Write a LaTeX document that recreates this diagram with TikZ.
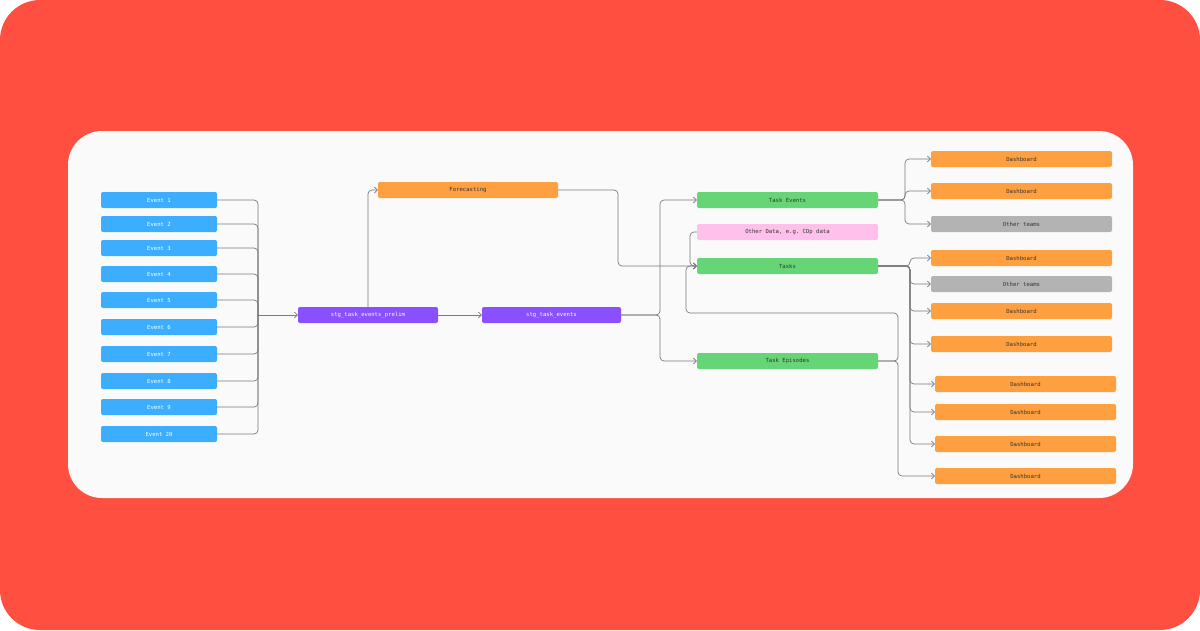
\documentclass[tikz,border=0pt]{standalone}
\usepackage{fontspec}
\setmonofont{DejaVu Sans Mono}
\usetikzlibrary{arrows.meta}
\definecolor{bgred}{HTML}{FF4F40}
\definecolor{panel}{HTML}{FAFAFA}
\definecolor{cblue}{HTML}{3DAEFF}
\definecolor{cpurple}{HTML}{8A4FFF}
\definecolor{corange}{HTML}{FFA040}
\definecolor{cgreen}{HTML}{66D575}
\definecolor{cpink}{HTML}{FFC0EB}
\definecolor{cgray}{HTML}{B3B3B3}
\definecolor{cline}{HTML}{7A7A7A}
\begin{document}
\begin{tikzpicture}[x=1pt,y=-1pt,
  box/.style={rounded corners=2pt,inner sep=0pt,minimum height=16pt,font=\ttfamily\fontsize{5.6}{6}\selectfont,text=black!80},
  ev/.style={box,fill=cblue,minimum width=116pt,text=white},
  pu/.style={box,fill=cpurple,minimum width=140pt,text=white},
  fo/.style={box,fill=corange,minimum width=181pt},
  gr/.style={box,fill=cgreen,minimum width=181pt},
  pk/.style={box,fill=cpink,minimum width=181pt},
  gy/.style={box,fill=cgray,minimum width=181pt},
  ln/.style={draw=cline,line width=0.7pt,rounded corners=4pt},
  ar/.style={ln,-{Straight Barb[length=3pt,width=6pt]}}]
\fill[bgred,rounded corners=40pt] (0,0) rectangle (1200,630);
\useasboundingbox (0,0) rectangle (1200,630);
\fill[panel,rounded corners=34pt] (68,131) rectangle (1133,498);
% events
\foreach \i/\y/\t in {1/200/Event 1,2/224/Event 2,3/248/Event 3,4/274/Event 4,5/300/Event 5,6/327/Event 6,7/354/Event 7,8/381/Event 8,9/407/Event 9,10/434/Event 20}
  \node[ev] (e\i) at (159,\y) {\t};
\node[pu] (pre) at (368,315) {stg\_task\_events\_prelim};
\node[fo,minimum width=180pt] (fc) at (468,190) {Forecasting};
\node[pu,minimum width=139pt] (stg) at (551.5,315) {stg\_task\_events};
\node[gr] (te) at (787.5,200) {Task Events};
\node[pk] (od) at (787.5,232) {Other Data, e.g. CDp data};
\node[gr] (tk) at (787.5,266) {Tasks};
\node[gr] (tep) at (787.5,361) {Task Episodes};
\node[fo] (d1) at (1021.5,159) {Dashboard};
\node[fo] (d2) at (1021.5,191) {Dashboard};
\node[gy] (o1) at (1021.5,224) {Other teams};
\node[fo] (d3) at (1021.5,258) {Dashboard};
\node[gy] (o2) at (1021.5,284) {Other teams};
\node[fo] (d4) at (1021.5,311) {Dashboard};
\node[fo] (d5) at (1021.5,344) {Dashboard};
\node[fo] (d6) at (1025.5,384) {Dashboard};
\node[fo] (d7) at (1025.5,412) {Dashboard};
\node[fo] (d8) at (1025.5,444) {Dashboard};
\node[fo] (d9) at (1025.5,476) {Dashboard};
% event bus
\foreach \i in {1,...,10}
  \draw[ln] (e\i.east) -| (258,315);
\draw[ar] (258,315) -- (pre.west);
\draw[ar] (pre.north -| 368,0) |- (fc.west);
\draw[ar] (pre.east) -- (stg.west);
\draw[ar] (stg.east) -- (660,315) |- (te.west);
\draw[ar] (stg.east) -- (660,315) |- (tep.west);
\draw[ar] (fc.east) -- (618,190) |- (tk.west);
\draw[ar] (od.west) -- (690,232) |- (tk.west);
\draw[ar] (tep.east) -- (898,361) |- (686,313) |- (tk.west);
\draw[ar] (tep.east) -- (898,361) |- (d9.west);
\foreach \d in {d1,d2,o1}
  \draw[ar] (te.east) -- (905,200) |- (\d.west);
\foreach \d in {d3,o2,d4,d5,d6,d7,d8}
  \draw[ar] (tk.east) -- (910,266) |- (\d.west);
\end{tikzpicture}
\end{document}
